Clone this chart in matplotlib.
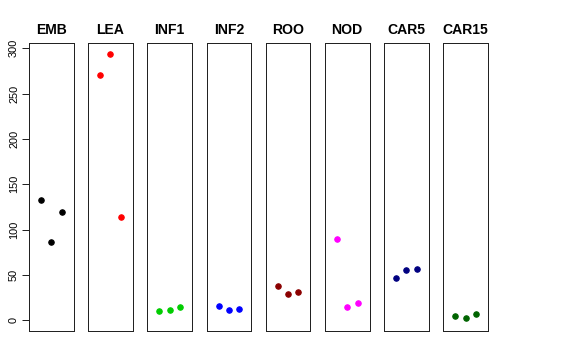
import matplotlib
matplotlib.use("Agg")
import matplotlib.pyplot as plt

plt.rcParams["font.family"] = ["Liberation Sans", "DejaVu Sans"]

tissues = ["EMB", "LEA", "INF1", "INF2", "ROO", "NOD", "CAR5", "CAR15"]
colors = ["black", "red", "#00CD00", "blue", "#8B0000", "magenta", "#000080", "#006400"]
values = [
    [132.7, 86.0, 119.1],
    [270.9, 294.0, 113.9],
    [9.9, 11.0, 15.0],
    [15.4, 11.7, 12.8],
    [37.5, 28.7, 31.5],
    [90.0, 15.0, 19.1],
    [47.0, 55.1, 56.2],
    [4.4, 2.2, 7.3],
]
yticks = [0, 50, 100, 150, 200, 250, 300]

fig = plt.figure(figsize=(8, 5), dpi=72)

left0 = 29 / 576
step = 59.2 / 576
width = 44.5 / 576
bottom = 1 - 331 / 360
height = (331 - 43.3) / 360

for i, name in enumerate(tissues):
    ax = fig.add_axes([left0 + i * step, bottom, width, height])
    ax.plot([1, 2, 3], values[i], "o", color=colors[i], markersize=5.5)
    ax.set_xlim(-0.15, 4.15)
    ax.set_ylim(-11.8, 305.5)
    ax.set_xticks([])
    ax.set_title(name, fontsize=14, fontweight="bold", pad=9)
    for s in ax.spines.values():
        s.set_color("#222222")
        s.set_linewidth(1)
    if i == 0:
        ax.set_yticks(yticks)
        ax.set_yticklabels([str(t) for t in yticks], rotation=90, va="center", fontsize=11)
        ax.tick_params(axis="y", length=7, width=1, pad=3, color="#222222")
    else:
        ax.set_yticks([])

fig.savefig("out.png", dpi=72)
